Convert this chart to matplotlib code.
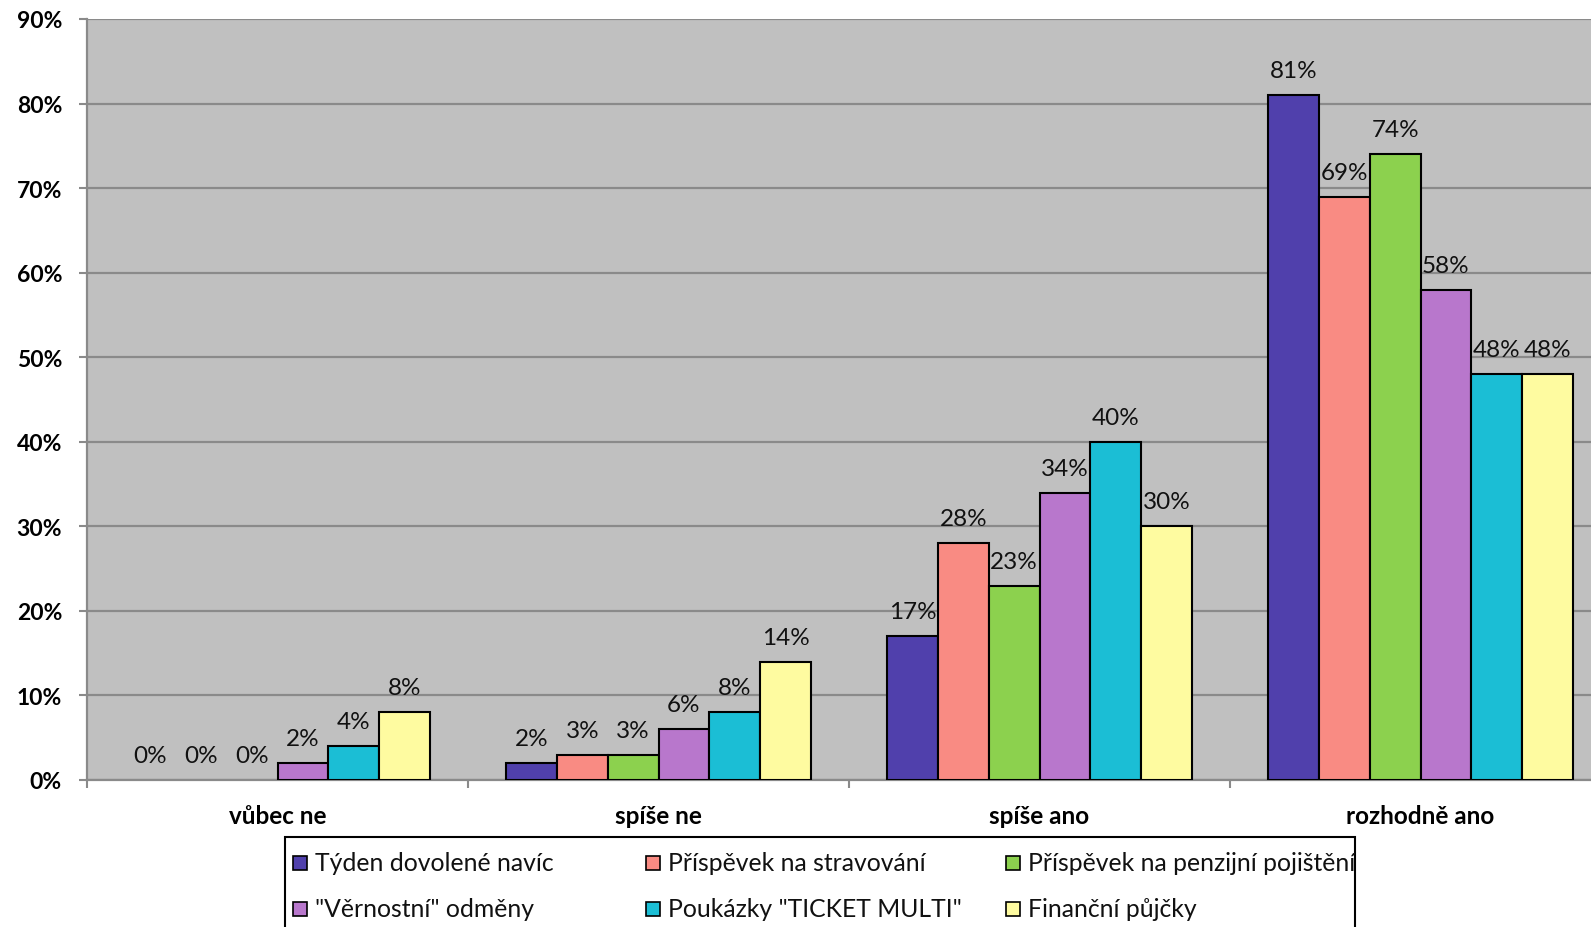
import numpy as np
import matplotlib.pyplot as plt
from matplotlib.patches import Rectangle
from matplotlib.transforms import Bbox, TransformedBbox

plt.rcParams['font.family'] = ['Lato', 'DejaVu Sans']

# Answer categories and the share of each benefit (percent)
categories = ['vůbec ne', 'spíše ne', 'spíše ano', 'rozhodně ano']
series_names = ['Týden dovolené navíc', 'Příspěvek na stravování',
                'Příspěvek na penzijní pojištění', '"Věrnostní" odměny',
                'Poukázky "TICKET MULTI"', 'Finanční půjčky']
tyden = [0, 2, 17, 81]
stravovani = [0, 3, 28, 69]
penzijni = [0, 3, 23, 74]
vernostni = [2, 6, 34, 58]
poukazky = [4, 8, 40, 48]
pujcky = [8, 14, 30, 48]
colors = ['#5040AC', '#F98B83', '#8CD14E', '#B877CC', '#1BBED5', '#FEFBA0']
y_ticks = [0, 10, 20, 30, 40, 50, 60, 70, 80, 90]

values = [tyden, stravovani, penzijni, vernostni, poukazky, pujcky]

W, H = 1591, 928
fig = plt.figure(figsize=(W / 100, H / 100), dpi=100)

def fx(px):
    return px / W

def fy(py):
    return 1 - py / H

# plot area runs past the right edge of the figure
ax = fig.add_axes([fx(87), fy(781), fx(1611 - 87), (781 - 20) / H])
ax.set_facecolor('#C0C0C0')

bw = 1 / 7.5
x = np.arange(len(categories))
for j, (vals, c) in enumerate(zip(values, colors)):
    pos = x + 0.1 + (j + 0.5) * bw
    lw = [1.5 if v > 0 else 0 for v in vals]
    ax.bar(pos, np.array(vals) / 100, width=bw, color=c, edgecolor='black',
           linewidth=lw, zorder=3)
    for p, v in zip(pos, vals):
        ax.annotate(f'{v}%', (p, v / 100), xytext=(0, 10), textcoords='offset points',
                    ha='center', va='bottom', fontsize=17.5, color='#111111', zorder=4)

ax.set_xlim(0, 4)
ax.set_ylim(0, 0.9)
ax.set_yticks(np.array(y_ticks) / 100)
ax.set_yticklabels([f'{t}%' for t in y_ticks], fontsize=16.5, fontweight='bold')
ax.grid(axis='y', color='#8A8A8A', linewidth=1.6, zorder=1)
ax.set_axisbelow(True)

ax.set_xticks(x + 0.5)
ax.set_xticklabels(categories, fontsize=17.5, fontweight='bold')
ax.set_xticks(np.arange(len(categories) + 1), minor=True)
ax.tick_params(axis='x', which='major', length=0, pad=17)
ax.tick_params(axis='x', which='minor', length=6, width=1.5, color='#8A8A8A', direction='out')
ax.tick_params(axis='y', length=6, width=1.5, color='#8A8A8A', pad=12)

for side in ['top', 'right']:
    ax.spines[side].set_visible(False)
for side in ['left', 'bottom']:
    ax.spines[side].set_color('#8A8A8A')
    ax.spines[side].set_linewidth(1.6)

# legend box, drawn by hand so the last column gets cut at the frame
box_l, box_r, box_t = 285, 1355, 838
fig.patches.append(Rectangle((fx(box_l), fy(H + 20)), fx(box_r - box_l), (H + 20 - box_t) / H,
                             transform=fig.transFigure, facecolor='white',
                             edgecolor='black', linewidth=1.5))
clip = TransformedBbox(Bbox([[fx(box_l), 0], [fx(box_r), 1]]), fig.transFigure)
col_x = [293, 646, 1006]
row_y = [864, 910]
sq = 14
for k, (name, c) in enumerate(zip(series_names, colors)):
    cx = col_x[k % 3]
    cy = row_y[k // 3]
    fig.patches.append(Rectangle((fx(cx), fy(cy + sq / 2)), fx(sq), sq / H,
                                 transform=fig.transFigure, facecolor=c,
                                 edgecolor='black', linewidth=1.2))
    t = fig.text(fx(cx + sq + 8), fy(cy), name, fontsize=17.8, color='#111111',
                 ha='left', va='center')
    t.set_clip_box(clip)
    t.set_clip_on(True)

fig.savefig('out.png', dpi=100)
